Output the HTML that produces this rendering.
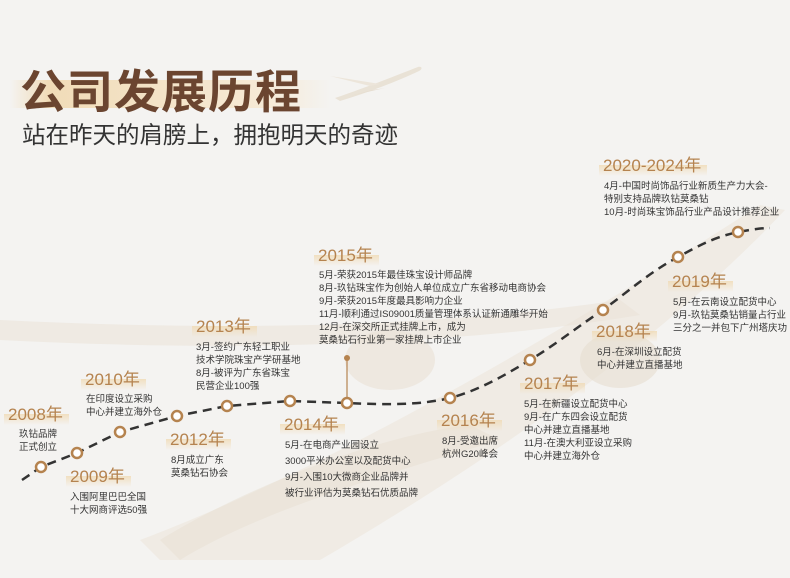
<!DOCTYPE html>
<html><head><meta charset="utf-8"><style>
body{margin:0;width:790px;height:578px;overflow:hidden;background:#f4f3f1;font-family:"Liberation Sans","Noto Sans CJK SC",sans-serif;position:relative}
.a{position:absolute;white-space:nowrap}
.y{position:absolute;font-size:17px;color:#b5834f;line-height:20px;padding:0 6px 0 4px;background:linear-gradient(to bottom,rgba(0,0,0,0) 45%,rgba(240,218,180,.8) 45%,rgba(240,218,180,0) 100%);background-size:100% 100%}
.t{position:absolute;font-size:9.5px;line-height:13px;color:#333;white-space:nowrap}
</style></head><body>
<svg class="a" style="left:0;top:0" width="790" height="578">
<defs><linearGradient id="hl" x1="0" x2="1"><stop offset="0" stop-color="#f1dcb8" stop-opacity="0"/><stop offset=".12" stop-color="#f1dcb8"/><stop offset=".8" stop-color="#f6ead6"/><stop offset="1" stop-color="#f6ead6" stop-opacity="0"/></linearGradient></defs>
<rect x="10" y="80" width="320" height="28" fill="url(#hl)"/>
<!-- small plane -->
<path d="M335 98 C370 86 400 74 418 67 C422 66 423 69 419 71 C400 80 370 92 340 101 Z" fill="#e9e2d6"/>
<path d="M370 86 L330 76 L380 84Z" fill="#ece5da"/>
<path d="M372 90 L350 96 L385 88Z" fill="#e6ddd0"/>
<!-- big plane background -->
<path d="M140 540 C300 480 520 360 760 205 L785 210 C700 300 560 420 320 560 L160 560 Z" fill="#ece6dc" opacity=".6"/>
<path d="M0 320 C200 330 420 330 620 300 L640 315 C430 350 200 350 0 340Z" fill="#eae2d6" opacity=".5"/>
<path d="M160 540 C250 485 380 435 470 425 L500 440 C400 470 260 510 180 560Z" fill="#e8dfd1" opacity=".5"/>
<ellipse cx="620" cy="360" rx="40" ry="28" fill="#e6ddd0" opacity=".6"/>
<ellipse cx="390" cy="360" rx="45" ry="30" fill="#e9e1d5" opacity=".6"/>
<path d="M22 480 L41 467 L77 453 L120 432 L177 416 L227 406 L290 401 L347 403 C390 405 420 405 450 398 C480 390 505 375 530 360 C555 345 580 325 603 310 C630 290 650 272 678 257 C700 245 715 237 738 232 C750 230 760 228 770 228" fill="none" stroke="#333" stroke-width="2.5" stroke-dasharray="9 6"/>
<line x1="347" y1="358" x2="347" y2="403" stroke="#b5834f" stroke-width="1.2"/>
<circle cx="347" cy="358" r="3" fill="#b5834f"/>
<g fill="#fff" stroke="#b5834f" stroke-width="2.5">
<circle cx="41" cy="467" r="5"/><circle cx="77" cy="453" r="5"/><circle cx="120" cy="432" r="5"/><circle cx="177" cy="416" r="5"/><circle cx="227" cy="406" r="5"/><circle cx="290" cy="401" r="5"/><circle cx="347" cy="403" r="5"/><circle cx="450" cy="398" r="5"/><circle cx="530" cy="360" r="5"/><circle cx="603" cy="310" r="5"/><circle cx="678" cy="257" r="5"/><circle cx="738" cy="232" r="5"/>
</g>
</svg>
<div class="a" style="left:20px;top:56px;font-size:46px;font-weight:bold;color:#6b4530;letter-spacing:1px">公司发展历程</div>
<div class="a" style="left:22px;top:116px;font-size:23.5px;color:#333">站在昨天的肩膀上，拥抱明天的奇迹</div>

<div class="y" style="left:4px;top:405px">2008年</div>
<div class="t" style="left:19px;top:428px">玖钻品牌<br>正式创立</div>
<div class="y" style="left:66px;top:467px">2009年</div>
<div class="t" style="left:70px;top:491px">入围阿里巴巴全国<br>十大网商评选50强</div>
<div class="y" style="left:81px;top:370px">2010年</div>
<div class="t" style="left:86px;top:393px">在印度设立采购<br>中心并建立海外仓</div>
<div class="y" style="left:166px;top:430px">2012年</div>
<div class="t" style="left:171px;top:454px">8月成立广东<br>莫桑钻石协会</div>
<div class="y" style="left:192px;top:317px">2013年</div>
<div class="t" style="left:196px;top:341px">3月-签约广东轻工职业<br>技术学院珠宝产学研基地<br>8月-被评为广东省珠宝<br>民营企业100强</div>
<div class="y" style="left:280px;top:415px">2014年</div>
<div class="t" style="left:285px;top:438px;line-height:16px">5月-在电商产业园设立<br>3000平米办公室以及配货中心<br>9月-入围10大微商企业品牌并<br>被行业评估为莫桑钻石优质品牌</div>
<div class="y" style="left:314px;top:246px">2015年</div>
<div class="t" style="left:319px;top:269px">5月-荣获2015年最佳珠宝设计师品牌<br>8月-玖钻珠宝作为创始人单位成立广东省移动电商协会<br>9月-荣获2015年度最具影响力企业<br>11月-顺利通过IS09001质量管理体系认证新通雕华开始<br>12月-在深交所正式挂牌上市，成为<br>莫桑钻石行业第一家挂牌上市企业</div>
<div class="y" style="left:437px;top:411px">2016年</div>
<div class="t" style="left:442px;top:435px">8月-受邀出席<br>杭州G20峰会</div>
<div class="y" style="left:520px;top:374px">2017年</div>
<div class="t" style="left:524px;top:398px">5月-在新疆设立配货中心<br>9月-在广东四会设立配货<br>中心并建立直播基地<br>11月-在澳大利亚设立采购<br>中心并建立海外仓</div>
<div class="y" style="left:592px;top:322px">2018年</div>
<div class="t" style="left:597px;top:346px">6月-在深圳设立配货<br>中心并建立直播基地</div>
<div class="y" style="left:668px;top:272px">2019年</div>
<div class="t" style="left:673px;top:296px">5月-在云南设立配货中心<br>9月-玖钻莫桑钻销量占行业<br>三分之一并包下广州塔庆功</div>
<div class="y" style="left:599px;top:156px">2020-2024年</div>
<div class="t" style="left:604px;top:180px">4月-中国时尚饰品行业新质生产力大会-<br>特别支持品牌玖钻莫桑钻<br>10月-时尚珠宝饰品行业产品设计推荐企业</div>
</body></html>
